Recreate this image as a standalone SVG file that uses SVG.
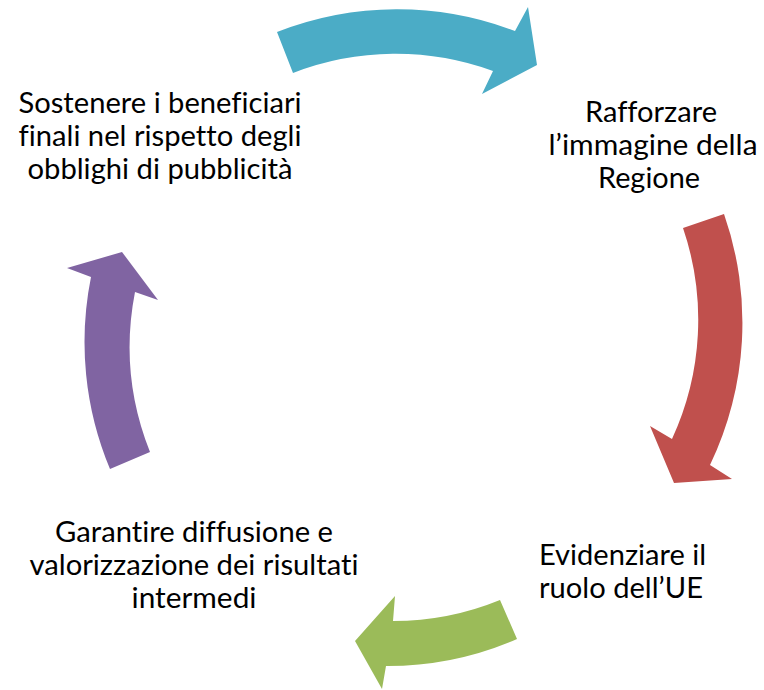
<svg xmlns="http://www.w3.org/2000/svg" width="764" height="690" viewBox="0 0 764 690">
<style>
text{font-family:Lato,"Open Sans","Liberation Sans",sans-serif;font-size:28.5px;fill:#000;font-variant-ligatures:none;font-feature-settings:"liga" 0,"clig" 0,"dlig" 0}
.c{text-anchor:middle}
.blue{fill:#4BACC6}.red{fill:#C0504D}.green{fill:#9BBB59}.purple{fill:#8064A2}
</style>
<rect width="764" height="690" fill="#fff"/>
<g id="connectors">
<path class="blue" d="M277,32 A329,329 0 0 1 515,31 L528,7 L537,65 L482,94 L493,71 A284,284 0 0 0 293,73 Z"/>
<path class="red" d="M724,214 A329,329 0 0 1 710,465 L732,479 L674,483 L650,426 L672,439 A284,284 0 0 0 683,228 Z"/>
<path class="green" d="M517,639 A325,325 0 0 1 386,666 L382,689 L355,641 L395,596 L393,621 A282,282 0 0 0 500,600 Z"/>
<path class="purple" d="M110,469 A329,329 0 0 1 91,277 L67,268 L122,252 L158,300 L135,292 A285,285 0 0 0 150,452 Z"/>
</g>
<g id="node-sostenere">
<text class="c" x="160" y="112.5" textLength="283" lengthAdjust="spacingAndGlyphs">Sostenere i beneficiari</text>
<text class="c" x="160" y="145.5" textLength="283" lengthAdjust="spacingAndGlyphs">finali nel rispetto degli</text>
<text class="c" x="160" y="178.5" textLength="265" lengthAdjust="spacingAndGlyphs">obblighi di pubblicità</text>
</g>
<g id="node-rafforzare">
<text class="c" x="651" y="122" textLength="132" lengthAdjust="spacingAndGlyphs">Rafforzare</text>
<text class="c" x="653" y="155" textLength="209" lengthAdjust="spacingAndGlyphs">l’immagine della</text>
<text class="c" x="649" y="188" textLength="102" lengthAdjust="spacingAndGlyphs">Regione</text>
</g>
<g id="node-evidenziare">
<text x="539" y="564.5" textLength="167" lengthAdjust="spacingAndGlyphs">Evidenziare il</text>
<text x="539" y="597.5" textLength="164" lengthAdjust="spacingAndGlyphs">ruolo dell’UE</text>
</g>
<g id="node-garantire">
<text class="c" x="194" y="542" textLength="278" lengthAdjust="spacingAndGlyphs">Garantire diffusione e</text>
<text class="c" x="194" y="575" textLength="329" lengthAdjust="spacingAndGlyphs">valorizzazione dei risultati</text>
<text class="c" x="194" y="608" textLength="125" lengthAdjust="spacingAndGlyphs">intermedi</text>
</g>
</svg>
